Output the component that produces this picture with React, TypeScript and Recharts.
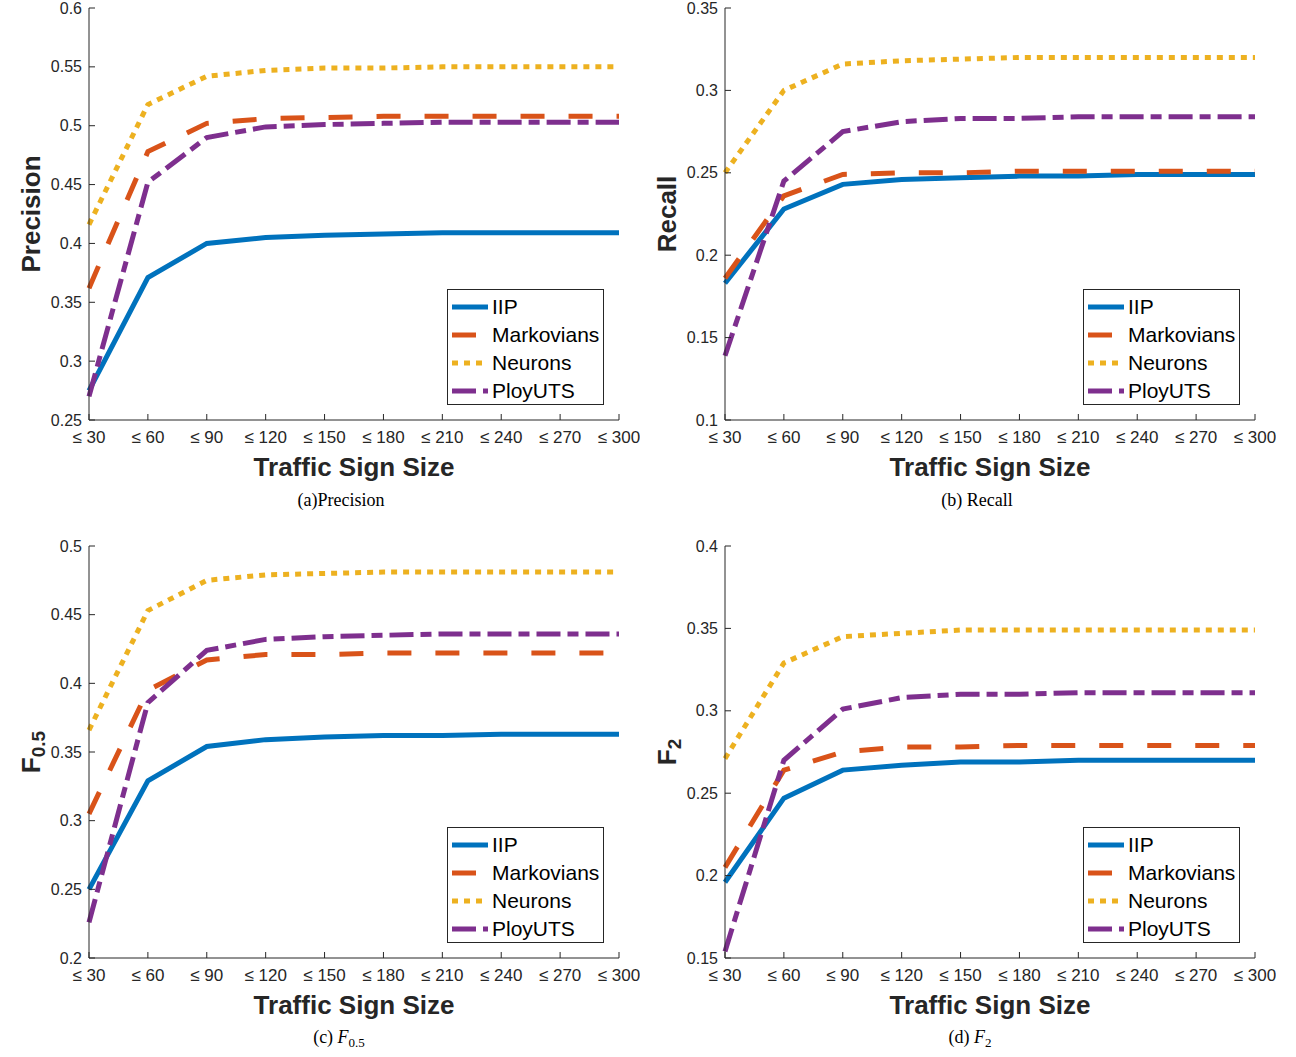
import React from 'react';
import { LineChart, Line, XAxis, YAxis, Legend } from 'recharts';

// categories
const sizes = ['≤ 30', '≤ 60', '≤ 90', '≤ 120', '≤ 150', '≤ 180', '≤ 210', '≤ 240', '≤ 270', '≤ 300'];
const seriesNames = ['IIP', 'Markovians', 'Neurons', 'PloyUTS'];

// (a) Precision
const precisionIIP = [0.275, 0.371, 0.4, 0.405, 0.407, 0.408, 0.409, 0.409, 0.409, 0.409];
const precisionMarkovians = [0.362, 0.478, 0.502, 0.506, 0.507, 0.508, 0.508, 0.508, 0.508, 0.508];
const precisionNeurons = [0.416, 0.518, 0.542, 0.547, 0.549, 0.549, 0.55, 0.55, 0.55, 0.55];
const precisionPloyUTS = [0.27, 0.452, 0.49, 0.499, 0.501, 0.502, 0.503, 0.503, 0.503, 0.503];
const precisionTicks = [0.25, 0.3, 0.35, 0.4, 0.45, 0.5, 0.55, 0.6];

// (b) Recall
const recallIIP = [0.183, 0.228, 0.243, 0.246, 0.247, 0.248, 0.248, 0.249, 0.249, 0.249];
const recallMarkovians = [0.186, 0.236, 0.249, 0.25, 0.25, 0.251, 0.251, 0.251, 0.251, 0.251];
const recallNeurons = [0.25, 0.3, 0.316, 0.318, 0.319, 0.32, 0.32, 0.32, 0.32, 0.32];
const recallPloyUTS = [0.139, 0.245, 0.275, 0.281, 0.283, 0.283, 0.284, 0.284, 0.284, 0.284];
const recallTicks = [0.1, 0.15, 0.2, 0.25, 0.3, 0.35];

// (c) F0.5
const f05IIP = [0.25, 0.329, 0.354, 0.359, 0.361, 0.362, 0.362, 0.363, 0.363, 0.363];
const f05Markovians = [0.305, 0.395, 0.417, 0.421, 0.421, 0.422, 0.422, 0.422, 0.422, 0.422];
const f05Neurons = [0.366, 0.453, 0.475, 0.479, 0.48, 0.481, 0.481, 0.481, 0.481, 0.481];
const f05PloyUTS = [0.226, 0.386, 0.424, 0.432, 0.434, 0.435, 0.436, 0.436, 0.436, 0.436];
const f05Ticks = [0.2, 0.25, 0.3, 0.35, 0.4, 0.45, 0.5];

// (d) F2
const f2IIP = [0.196, 0.247, 0.264, 0.267, 0.269, 0.269, 0.27, 0.27, 0.27, 0.27];
const f2Markovians = [0.205, 0.264, 0.275, 0.278, 0.278, 0.279, 0.279, 0.279, 0.279, 0.279];
const f2Neurons = [0.271, 0.329, 0.345, 0.347, 0.349, 0.349, 0.349, 0.349, 0.349, 0.349];
const f2PloyUTS = [0.154, 0.27, 0.301, 0.308, 0.31, 0.31, 0.311, 0.311, 0.311, 0.311];
const f2Ticks = [0.15, 0.2, 0.25, 0.3, 0.35, 0.4];

const lineStyle: Record<string, { color: string; dash?: string }> = {
  IIP: { color: '#0072BD' },
  Markovians: { color: '#D95319', dash: '24 24' },
  Neurons: { color: '#EDB120', dash: '6 6' },
  PloyUTS: { color: '#7E2F8E', dash: '24 7 11 7' },
};

const AXIS = '#262626';
const FONT = '"Liberation Sans", Arial, Helvetica, sans-serif';

const buildRows = (series: number[][]) =>
  sizes.map((size, i) => {
    const row: Record<string, string | number> = { size };
    seriesNames.forEach((name, k) => {
      row[name] = series[k][i];
    });
    return row;
  });

const fmt = (v: number) => String(Number(v.toFixed(2)));

const BottomTick = (props: any) => {
  const { x, y, payload } = props;
  return (
    <g>
      <line x1={x} y1={y} x2={x} y2={y - 6} stroke={AXIS} />
      <text x={x} y={y + 23} textAnchor="middle" fontSize={17} fill={AXIS} fontFamily={FONT}>
        {payload.value}
      </text>
    </g>
  );
};

const TopTick = (props: any) => {
  const { x, y } = props;
  return <line x1={x} y1={y} x2={x} y2={y + 6} stroke={AXIS} />;
};

const LeftTick = (props: any) => {
  const { x, y, payload } = props;
  return (
    <g>
      <line x1={x} y1={y} x2={x + 6} y2={y} stroke={AXIS} />
      <text x={x - 7} y={y + 5.5} textAnchor="end" fontSize={16} fill={AXIS} fontFamily={FONT}>
        {fmt(payload.value)}
      </text>
    </g>
  );
};

const RightTick = (props: any) => {
  const { x, y } = props;
  return <line x1={x} y1={y} x2={x - 6} y2={y} stroke={AXIS} />;
};

const XTitle = (props: any) => {
  const vb = props.viewBox || { x: 89, y: 420, width: 530, height: 60 };
  return (
    <text
      x={vb.x + vb.width / 2}
      y={vb.y + 47}
      textAnchor="middle"
      dominantBaseline="central"
      fontSize={26}
      fontWeight="bold"
      fill={AXIS}
      fontFamily={FONT}
    >
      Traffic Sign Size
    </text>
  );
};

const YTitle = (props: any) => {
  const { main, sub } = props;
  const vb = props.viewBox || { x: 0, y: 8, width: 89, height: 412 };
  const cx = vb.x + vb.width - 58;
  const cy = vb.y + vb.height / 2;
  return (
    <text
      transform={`translate(${cx},${cy}) rotate(-90)`}
      textAnchor="middle"
      dominantBaseline="central"
      fontSize={26}
      fontWeight="bold"
      fill={AXIS}
      fontFamily={FONT}
    >
      {main}
      {sub && (
        <tspan fontSize={19} dy={7}>
          {sub}
        </tspan>
      )}
    </text>
  );
};

const LegendBox = () => (
  <div
    style={{
      border: `1px solid ${AXIS}`,
      background: '#fff',
      boxSizing: 'border-box',
      width: 157,
      height: 116,
      paddingTop: 3,
      fontFamily: FONT,
    }}
  >
    {seriesNames.map((name) => (
      <div key={name} style={{ display: 'flex', alignItems: 'center', height: 28 }}>
        <svg width={45} height={10} style={{ marginLeft: 4 }}>
          <line
            x1={0}
            y1={5}
            x2={36}
            y2={5}
            stroke={lineStyle[name].color}
            strokeWidth={5}
            strokeDasharray={lineStyle[name].dash}
          />
        </svg>
        <span style={{ fontSize: 21, color: '#000', marginLeft: -5, lineHeight: '28px' }}>{name}</span>
      </div>
    ))}
  </div>
);

interface PanelProps {
  series: number[][];
  ticks: number[];
  title: string;
  sub?: string;
  left: number;
  top: number;
}

const Panel = ({ series, ticks, title, sub, left, top }: PanelProps) => {
  const rows = buildRows(series);
  const domain: [number, number] = [ticks[0], ticks[ticks.length - 1]];
  return (
    <div style={{ position: 'absolute', left, top }}>
      <LineChart width={640} height={520} data={rows} margin={{ top: 8, right: 21, bottom: 40, left: 0 }}>
        <XAxis
          dataKey="size"
          height={60}
          tickSize={0}
          tickMargin={0}
          stroke={AXIS}
          tick={<BottomTick />}
          interval={0}
          label={<XTitle />}
        />
        <XAxis
          xAxisId="top"
          dataKey="size"
          orientation="top"
          height={0}
          tickSize={0}
          tickMargin={0}
          stroke={AXIS}
          tick={<TopTick />}
          interval={0}
        />
        <YAxis
          width={89}
          domain={domain}
          ticks={ticks}
          type="number"
          allowDataOverflow
          tickSize={0}
          tickMargin={0}
          stroke={AXIS}
          tick={<LeftTick />}
          interval={0}
          label={<YTitle main={title} sub={sub} />}
        />
        <YAxis
          yAxisId="right"
          orientation="right"
          width={0}
          domain={domain}
          ticks={ticks}
          type="number"
          allowDataOverflow
          tickSize={0}
          tickMargin={0}
          stroke={AXIS}
          tick={<RightTick />}
          interval={0}
        />
        {seriesNames.map((name) => (
          <Line
            key={name}
            dataKey={name}
            stroke={lineStyle[name].color}
            strokeWidth={5}
            strokeDasharray={lineStyle[name].dash}
            dot={false}
            type="linear"
            isAnimationActive={false}
          />
        ))}
        <Legend
          layout="horizontal"
          verticalAlign="middle"
          align="center"
          content={<LegendBox />}
          wrapperStyle={{ left: 447, top: 289, width: 157, height: 116 }}
        />
      </LineChart>
    </div>
  );
};

const captionStyle: React.CSSProperties = {
  position: 'absolute',
  fontFamily: '"Liberation Serif", "Times New Roman", serif',
  fontSize: 18,
  color: '#000',
  transform: 'translate(-50%, -50%)',
  whiteSpace: 'nowrap',
};

export default function App() {
  return (
    <div style={{ position: 'absolute', left: 0, top: 0, width: 1296, height: 1057, background: '#fff', overflow: 'hidden' }}>
      <Panel
        series={[precisionIIP, precisionMarkovians, precisionNeurons, precisionPloyUTS]}
        ticks={precisionTicks}
        title="Precision"
        left={0}
        top={0}
      />
      <Panel
        series={[recallIIP, recallMarkovians, recallNeurons, recallPloyUTS]}
        ticks={recallTicks}
        title="Recall"
        left={636}
        top={0}
      />
      <Panel
        series={[f05IIP, f05Markovians, f05Neurons, f05PloyUTS]}
        ticks={f05Ticks}
        title="F"
        sub="0.5"
        left={0}
        top={538}
      />
      <Panel
        series={[f2IIP, f2Markovians, f2Neurons, f2PloyUTS]}
        ticks={f2Ticks}
        title="F"
        sub="2"
        left={636}
        top={538}
      />
      <div style={{ ...captionStyle, left: 341, top: 500 }}>(a)Precision</div>
      <div style={{ ...captionStyle, left: 977, top: 500 }}>(b) Recall</div>
      <div style={{ ...captionStyle, left: 339, top: 1039 }}>
        (c) <i>F</i>
        <sub style={{ fontSize: 13 }}>0.5</sub>
      </div>
      <div style={{ ...captionStyle, left: 970, top: 1039 }}>
        (d) <i>F</i>
        <sub style={{ fontSize: 13 }}>2</sub>
      </div>
    </div>
  );
}
